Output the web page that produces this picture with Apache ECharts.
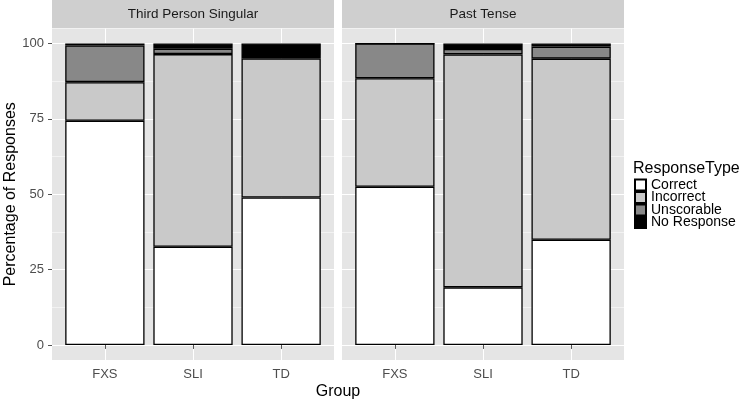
<!DOCTYPE html>
<html>
<head>
<meta charset="utf-8">
<script src="https://cdn.jsdelivr.net/npm/echarts@6/dist/echarts.min.js"></script>
<style>
  html, body { margin: 0; padding: 0; background: #fff; }
  #chart { width: 751px; height: 403px; }
</style>
</head>
<body>
<div id="chart"></div>
<script>
// facets, groups and legend entries
const groups = ['FXS', 'SLI', 'TD'];
const panels = ['Third Person Singular', 'Past Tense'];
const responseTypes = ['Correct', 'Incorrect', 'Unscorable', 'No Response'];
const yTicks = [0, 25, 50, 75, 100];

// percentages
const thirdCorrect = [74.4, 32.6, 48.9];
const thirdIncorrect = [12.8, 63.9, 46.2];
const thirdUnscorable = [12.2, 1.8, 0.8];
const thirdNoResponse = [0.6, 1.7, 4.1];

const pastCorrect = [52.5, 19.1, 34.9];
const pastIncorrect = [36.0, 77.3, 60.1];
const pastUnscorable = [11.5, 1.8, 4.0];
const pastNoResponse = [0.0, 1.8, 1.0];

const panelData = [
  [thirdCorrect, thirdIncorrect, thirdUnscorable, thirdNoResponse],
  [pastCorrect, pastIncorrect, pastUnscorable, pastNoResponse]
];
const fills = ['#ffffff', '#c9c9c9', '#888888', '#000000'];

// layout (ggplot style: 0.6 category expand, 5% value expand)
const panelLeft = [52, 342];
const panelW = 282;
const panelTop = 28.5;
const panelH = 331.5;
const unit = panelW / 3.2;
const yPad = 5;
const yMin = yTicks[0], yMax = yTicks[yTicks.length - 1];
const span = yMax - yMin + 2 * yPad;

const grids = [], xAxes = [], yAxes = [], series = [], graphics = [];
const tickColor = '#555';
const labelColor = '#4d4d4d';

panelLeft.forEach((L, p) => {
  // panel + strip backgrounds
  graphics.push({ type: 'rect', z: -10, shape: { x: L, y: panelTop, width: panelW, height: panelH }, style: { fill: '#e5e5e5' } });
  graphics.push({ type: 'rect', z: -10, shape: { x: L, y: 0, width: panelW, height: panelTop - 0.5 }, style: { fill: '#cfcfcf' } });
  graphics.push({ type: 'text', z: 5, x: L + panelW / 2, y: 14.5,
    style: { text: panels[p], fill: '#1a1a1a', fontSize: 13.5, fontFamily: 'Liberation Sans', textAlign: 'center', textVerticalAlign: 'middle' } });

  // grid with horizontal grid lines and y labels
  const hIdx = grids.length;
  grids.push({ left: L, width: panelW, top: panelTop + yPad * panelH / span, height: (yMax - yMin) * panelH / span });
  xAxes.push({ gridIndex: hIdx, type: 'category', data: groups, show: false });
  yAxes.push({
    gridIndex: hIdx, type: 'value', min: yMin, max: yMax, interval: yTicks[1] - yTicks[0],
    axisLine: { show: false },
    axisTick: { show: p === 0, length: 4, lineStyle: { color: tickColor } },
    axisLabel: { show: p === 0, color: labelColor, fontSize: 13, margin: 8 },
    splitLine: { show: true, lineStyle: { color: '#ffffff', width: 1 } },
    minorTick: { show: false, splitNumber: 2 },
    minorSplitLine: { show: true, lineStyle: { color: '#f2f2f2', width: 1 } },
    name: p === 0 ? 'Percentage of Responses' : '',
    nameLocation: 'middle', nameGap: 33,
    nameTextStyle: { fontSize: 16, color: '#000' }
  });

  // grid holding the bars: spans first to last category centre
  const dIdx = grids.length;
  grids.push({ left: L + 0.6 * unit, width: 2 * unit, top: panelTop, height: panelH });
  xAxes.push({
    gridIndex: dIdx, type: 'category', data: groups, boundaryGap: false,
    axisLine: { show: false },
    axisTick: { show: true, length: 4, lineStyle: { color: tickColor } },
    axisLabel: { color: labelColor, fontSize: 13, margin: 8 },
    splitLine: { show: true, lineStyle: { color: '#ffffff', width: 1 } }
  });
  yAxes.push({ gridIndex: dIdx, type: 'value', min: yMin - yPad, max: yMax + yPad, show: false, splitLine: { show: false } });

  responseTypes.forEach((name, k) => {
    series.push({
      name: name, type: 'bar', stack: 'panel' + p,
      xAxisIndex: dIdx, yAxisIndex: dIdx,
      barWidth: 0.9 * unit, clip: false,
      itemStyle: { color: fills[k], borderColor: '#000', borderWidth: 1.3 },
      data: panelData[p][k]
    });
  });
});

graphics.push({ type: 'text', x: 338, y: 392,
  style: { text: 'Group', fill: '#000', fontSize: 16, fontFamily: 'Liberation Sans', textAlign: 'center', textVerticalAlign: 'middle' } });
graphics.push({ type: 'text', x: 633, y: 169,
  style: { text: 'ResponseType', fill: '#000', fontSize: 16, fontFamily: 'Liberation Sans', textAlign: 'left', textVerticalAlign: 'middle' } });

const chart = echarts.init(document.getElementById('chart'));
chart.setOption({
  animation: false,
  textStyle: { fontFamily: 'Liberation Sans' },
  grid: grids,
  xAxis: xAxes,
  yAxis: yAxes,
  series: series,
  graphic: graphics,
  legend: {
    data: responseTypes,
    orient: 'vertical', left: 634, top: 178, padding: 0,
    icon: 'rect', itemWidth: 11, itemHeight: 11, itemGap: -1.5,
    textStyle: { fontSize: 14, color: '#000' }
  }
});
</script>
</body>
</html>
